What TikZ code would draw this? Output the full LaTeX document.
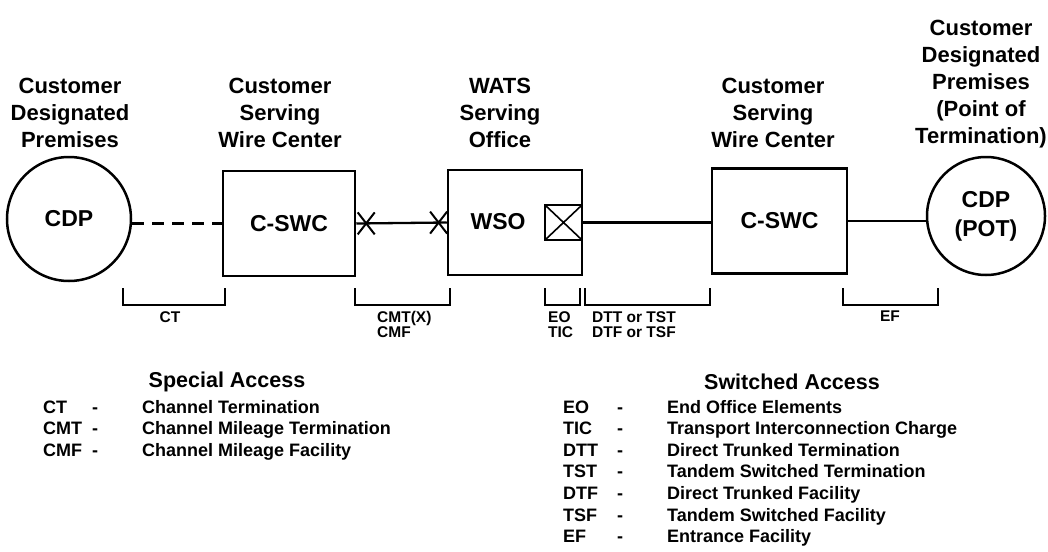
\documentclass[tikz,border=0pt]{standalone}
\usepackage{fontspec}
\setmainfont{Liberation Sans}
\usetikzlibrary{shapes.misc}
\begin{document}
\begin{tikzpicture}[x=1pt,y=-1pt,
  heading/.style={font=\bfseries\fontsize{22}{27}\selectfont, align=center, inner sep=0pt},
  office/.style={draw, rectangle, line width=2.5pt, inner sep=0pt},
  premises/.style={draw, circle, line width=2.5pt, inner sep=0pt, align=center,
    font=\bfseries\fontsize{23}{29}\selectfont},
  nodetext/.style={font=\bfseries\fontsize{23}{28}\selectfont, inner sep=0pt},
  link/.style={line width=2.3pt},
  dashlink/.style={line width=2.8pt, dash pattern=on 12pt off 8pt},
  bracket/.style={line width=2.5pt},
  xmark/.style={cross out, draw, line width=2pt, minimum width=15pt, minimum height=20pt, inner sep=0pt},
  trunkbox/.style={draw, rectangle, line width=2.3pt, minimum width=37pt, minimum height=35pt, inner sep=0pt,
    path picture={\draw[line width=1.6pt] (path picture bounding box.north west) -- (path picture bounding box.south east)
      (path picture bounding box.south west) -- (path picture bounding box.north east);}},
  blabel/.style={font=\bfseries\fontsize{15.5}{15.5}\selectfont, align=left, inner sep=0pt},
  legtitle/.style={font=\bfseries\fontsize{21.5}{25}\selectfont, inner sep=0pt},
  legitem/.style={font=\bfseries\fontsize{18}{21}\selectfont, anchor=base west, inner sep=0pt}
]
\useasboundingbox[fill=white] (0,0) rectangle (1048,551);

% top headings
\node[heading] (h1) at (70,113) {Customer\\Designated\\Premises};
\node[heading] (h2) at (280,113) {Customer\\Serving\\Wire Center};
\node[heading] (h3) at (500,113) {WATS\\Serving\\Office};
\node[heading] (h4) at (773,113) {Customer\\Serving\\Wire Center};
\node[heading] (h5) at (981,84) {Customer\\Designated\\Premises\\(Point of\\Termination)};

% main nodes
\node[premises, minimum size=124pt] (cdp1) at (69,219) {CDP};
\node[office, minimum width=132pt, minimum height=105pt, nodetext] (cswc1) at (289,223.5) {C-SWC};
\node[office, minimum width=134pt, minimum height=105pt] (wso) at (515,222.5) {};
\node[nodetext] (wsotext) at (498,222) {WSO};
\node[trunkbox] (tic) at (563.5,222.5) {};
\node[office, minimum width=135pt, minimum height=105pt, nodetext] (cswc2) at (779.5,221) {C-SWC};
\node[premises, minimum size=118pt] (cdp2) at (986,216) {CDP\\(POT)};

% connectors
\draw[dashlink] (cswc1.west -| cdp1.east) -- (cswc1.west);
\draw[link] (cswc1.east) -- (wso.west)
  node[xmark, pos=0.11] (x1) {}
  node[xmark, pos=0.91] (x2) {};
\draw[link] (tic.east) -- (tic.east -| cswc2.west);
\draw[link] (cswc2.east) -- (cswc2.east -| cdp2.west);

% brackets
\draw[bracket] (123,288) -- (123,305) -- (225,305) -- (225,288);
\draw[bracket] (355,288) -- (355,305) -- (450,305) -- (450,288);
\draw[bracket] (545,288) -- (545,305) -- (580,305) -- (580,288);
\draw[bracket] (585,288) -- (585,305) -- (710,305) -- (710,288);
\draw[bracket] (843,288) -- (843,305) -- (938,305) -- (938,288);

% bracket labels
\node[blabel, anchor=north] (lct) at (170,311) {CT};
\node[blabel, anchor=north west] (lcmt) at (377,311) {CMT(X)\\CMF};
\node[blabel, anchor=north west] (leo) at (548,311) {EO\\TIC};
\node[blabel, anchor=north west] (ldtt) at (592,311) {DTT or TST\\DTF or TSF};
\node[blabel, anchor=north] (lef) at (890,311) {EF};

% legend: special access
\node[legtitle] (sa) at (227,382) {Special Access};
\node[legitem] (sa1a) at (43,413) {CT};
\node[legitem] (sa1b) at (92,413) {-};
\node[legitem] (sa1c) at (142,413) {Channel Termination};
\node[legitem] (sa2a) at (43,434.5) {CMT};
\node[legitem] (sa2b) at (92,434.5) {-};
\node[legitem] (sa2c) at (142,434.5) {Channel Mileage Termination};
\node[legitem] (sa3a) at (43,456) {CMF};
\node[legitem] (sa3b) at (92,456) {-};
\node[legitem] (sa3c) at (142,456) {Channel Mileage Facility};

% legend: switched access
\node[legtitle] (sw) at (792,382) {Switched Access};
\foreach \ab/\de [count=\i from 0] in {EO/End Office Elements,TIC/Transport Interconnection Charge,DTT/Direct Trunked Termination,TST/Tandem Switched Termination,DTF/Direct Trunked Facility,TSF/Tandem Switched Facility,EF/Entrance Facility}{
  \node[legitem] (swa\i) at (563,413+21.6*\i) {\ab};
  \node[legitem] (swb\i) at (617,413+21.6*\i) {-};
  \node[legitem] (swc\i) at (667,413+21.6*\i) {\de};
}
\end{tikzpicture}
\end{document}
